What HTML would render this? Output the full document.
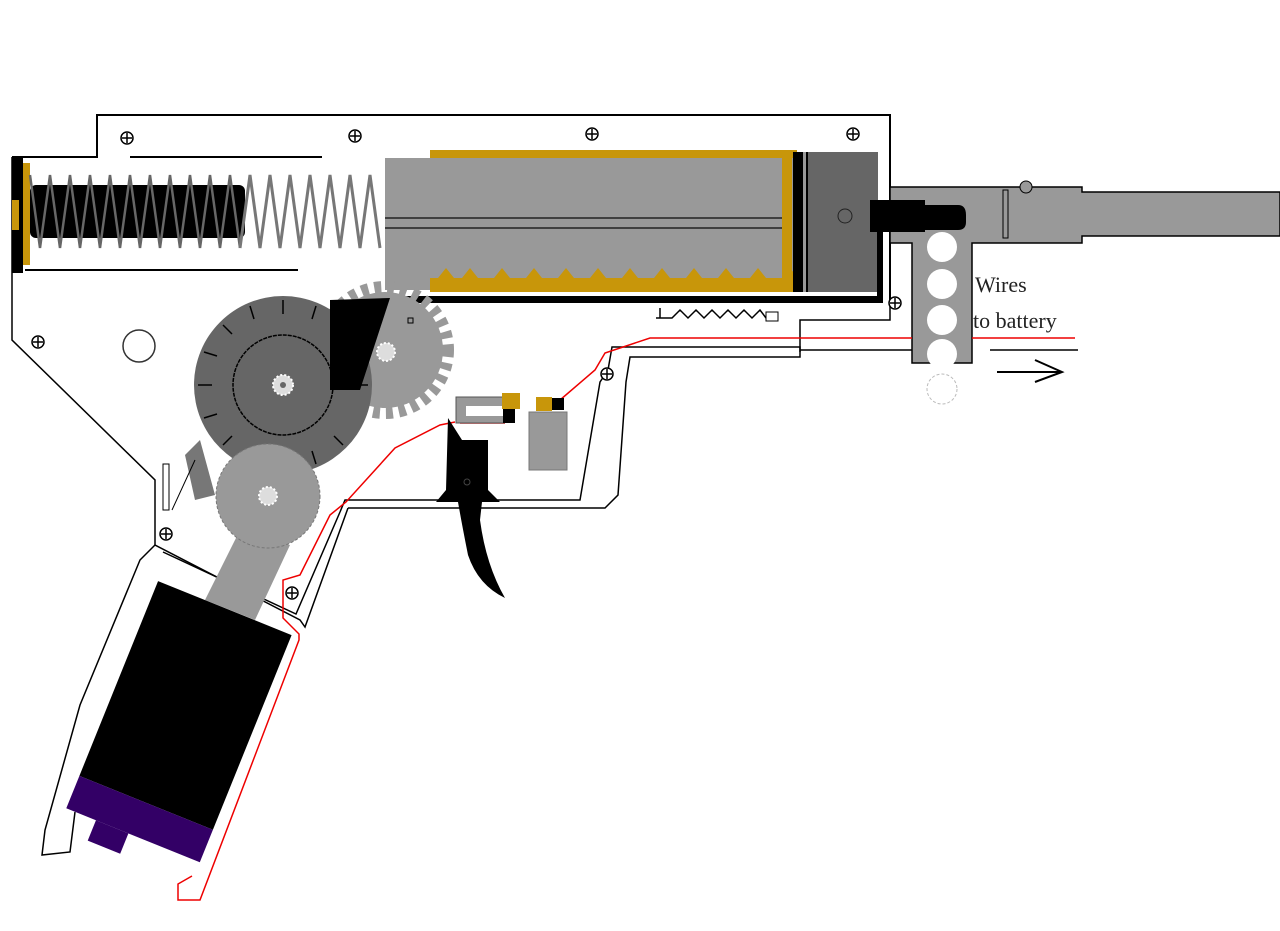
<!DOCTYPE html>
<html><head><meta charset="utf-8"><style>
html,body{margin:0;padding:0;background:#fff;width:1280px;height:931px;overflow:hidden}
svg{display:block}
text{font-family:"Liberation Serif",serif}
</style></head><body>
<svg width="1280" height="931" viewBox="0 0 1280 931" xmlns="http://www.w3.org/2000/svg">
<defs>
<g id="screw"><circle r="6" fill="#fff" stroke="#000" stroke-width="1.5"/><path d="M-5 0H5M0 -5V5" stroke="#000" stroke-width="1.5"/></g>
</defs>
<!-- gearbox outline -->
<path d="M12 157 H97 V115 H890 V300" fill="none" stroke="#000" stroke-width="2"/>
<path d="M12 157 V340 L155 480 V545 L300 620 L305 627 L348 508" fill="none" stroke="#000" stroke-width="1.5"/>
<path d="M163 552 L296 614 L340 512" fill="none" stroke="#000" stroke-width="1.5"/>
<path d="M155 545 L140 560 L80 705 L45 830 L42 855 L70 852 L75 812" fill="none" stroke="#000" stroke-width="1.5"/>
<line x1="130" y1="157" x2="322" y2="157" stroke="#000" stroke-width="2"/>
<line x1="25" y1="270" x2="298" y2="270" stroke="#000" stroke-width="2"/>
<!-- spring guide -->
<rect x="12" y="157" width="11" height="116" fill="#000"/>
<rect x="23" y="163" width="7" height="102" fill="#c8960a"/>
<rect x="12" y="200" width="7" height="30" fill="#c8960a"/>
<rect x="30" y="185" width="215" height="53" rx="6" fill="#000"/>
<polyline fill="none" stroke="#666" stroke-width="2.5" points="30,175 40,248 50,175 60,248 70,175 80,248 90,175 100,248 110,175 120,248 130,175 140,248 150,175 160,248 170,175 180,248 190,175 200,248 210,175 220,248 230,175 240,248"/>
<polyline fill="none" stroke="#777" stroke-width="3" points="240,248 250,175 260,248 270,175 280,248 290,175 300,248 310,175 320,248 330,175 340,248 350,175 360,248 370,175 380,248"/>
<!-- cylinder -->
<rect x="430" y="150" width="367" height="8" fill="#c8960a"/>
<rect x="385" y="158" width="425" height="132" fill="#999"/>
<line x1="385" y1="218" x2="790" y2="218" stroke="#222" stroke-width="1.5"/>
<line x1="385" y1="228" x2="790" y2="228" stroke="#222" stroke-width="1.5"/>
<polygon fill="#c8960a" points="430,292 430,278 438,278 446,268 454,278 462,278 470,268 478,278 494,278 502,268 510,278 526,278 534,268 542,278 558,278 566,268 574,278 590,278 598,268 606,278 622,278 630,268 638,278 654,278 662,268 670,278 686,278 694,268 702,278 718,278 726,268 734,278 750,278 758,268 766,278 782,278 790,268 798,278 820,278 820,292"/>
<rect x="782" y="152" width="10" height="140" fill="#c8960a"/>
<rect x="793" y="152" width="10" height="140" fill="#000"/>
<rect x="803" y="152" width="6" height="140" fill="#999"/>
<rect x="808" y="152" width="70" height="140" fill="#666"/>
<line x1="807" y1="152" x2="807" y2="292" stroke="#000" stroke-width="2"/>
<circle cx="845" cy="216" r="7" fill="none" stroke="#222"/>
<rect x="385" y="296" width="498" height="7" fill="#000"/>
<rect x="877" y="230" width="6" height="70" fill="#000"/>
<!-- nozzle / barrel -->
<polygon fill="#999" stroke="#000" stroke-width="1.5" points="890,187 1082,187 1082,192 1280,192 1280,236 1082,236 1082,243 972,243 972,363 912,363 912,243 890,243"/>
<rect x="1003" y="190" width="5" height="48" fill="none" stroke="#000"/>
<circle cx="1026" cy="187" r="6" fill="#999" stroke="#000"/>
<path d="M870 200 H925 V205 H958 Q966 205 966 215 V222 Q966 230 958 230 H925 V232 H870 Z" fill="#000"/>
<g fill="#fff"><circle cx="942" cy="247" r="15"/><circle cx="942" cy="284" r="15"/><circle cx="942" cy="320" r="15"/><circle cx="942" cy="354" r="15"/></g>
<circle cx="942" cy="389" r="15" fill="none" stroke="#bbb" stroke-dasharray="3 2"/>
<text x="975" y="292" font-size="22" fill="#222">Wires</text>
<text x="973" y="328" font-size="22" fill="#222">to battery</text>
<path d="M997 372 H1062 M1035 360 L1062 372 L1035 382" fill="none" stroke="#000" stroke-width="2"/>
<!-- small spring -->
<path d="M660 308 V318 M656 318 H672 L680 310 L688 318 L696 310 L704 318 L712 310 L720 318 L728 310 L736 318 L744 310 L752 318 L760 310 L766 318" fill="none" stroke="#000" stroke-width="1.5"/>
<rect x="766" y="312" width="12" height="9" fill="none" stroke="#000"/>
<circle cx="139" cy="346" r="16" fill="none" stroke="#333" stroke-width="1.5"/>
<rect x="163" y="464" width="6" height="46" fill="none" stroke="#000"/>
<!-- spur gear -->
<circle cx="385" cy="350" r="58" fill="#999"/>
<circle cx="385" cy="350" r="63" fill="none" stroke="#999" stroke-width="12" stroke-dasharray="7 6"/>
<!-- sector gear -->
<circle cx="283" cy="385" r="89" fill="#666"/>
<g stroke="#000" stroke-width="1.5">
<path d="M283 300V314 M283 470V456 M198 385H212 M368 385H354 M223 325L232 334 M343 445L334 436 M223 445L232 436 M343 325L334 334 M250 306L254 319 M316 464L312 451 M204 418L217 414 M362 352L349 356 M204 352L217 356 M250 464L254 451 M316 306L312 319"/>
</g>
<circle cx="283" cy="385" r="50" fill="#666" stroke="#000" stroke-width="1.5" stroke-dasharray="4 1"/>
<circle cx="283" cy="385" r="10" fill="#ddd" stroke="#fff" stroke-width="2" stroke-dasharray="2 2"/>
<circle cx="283" cy="385" r="3" fill="#666"/>
<path d="M330 300 L390 298 L360 390 L330 390 Z" fill="#000"/>
<circle cx="386" cy="352" r="9" fill="#ddd" stroke="#fff" stroke-width="2" stroke-dasharray="2 2"/>
<rect x="408" y="318" width="5" height="5" fill="none" stroke="#000"/>
<!-- anti-reversal latch -->
<polygon points="185,455 200,440 215,495 195,500" fill="#777"/>
<line x1="172" y1="510" x2="195" y2="460" stroke="#000"/>
<!-- bevel gear + motor pinion -->
<polygon points="240,530 290,545 255,620 205,600" fill="#999"/>
<circle cx="268" cy="496" r="52" fill="#999" stroke="#777" stroke-dasharray="3 2"/>
<circle cx="268" cy="496" r="9" fill="#ddd" stroke="#fff" stroke-width="2" stroke-dasharray="2 2"/>
<!-- motor -->
<g transform="translate(178 724) rotate(22)">
<rect x="-72" y="-125" width="144" height="210" fill="#000"/>
<rect x="-72" y="85" width="144" height="35" fill="#330066"/>
<rect x="-40" y="120" width="35" height="22" fill="#330066"/>
</g>
<!-- wires -->
<path d="M890 300 V320 H800 V357 H630 L626 382 L618 495 L605 508 H348" fill="none" stroke="#000" stroke-width="1.5"/>
<path d="M1078 350 H990 M912 350 H800" fill="none" stroke="#000" stroke-width="1.5"/>
<path d="M800 352 V347 H612 L608 370 L600 382 L580 500 H345 L340 512" fill="none" stroke="#000" stroke-width="1.5"/>
<path d="M1075 338 H972 M912 338 H650 L605 353 L595 370 L560 400" fill="none" stroke="#e00" stroke-width="1.5"/>
<path d="M192 876 L178 884 V900 H200 L299 640 V634 L283 618 V580 L300 575 L330 515 L346 502 L395 448 L440 425 L455 422" fill="none" stroke="#e00" stroke-width="1.5"/>
<path d="M460 423 H505" stroke="#e00" stroke-width="1.5"/>
<!-- screws -->
<use href="#screw" x="127" y="138"/><use href="#screw" x="355" y="136"/><use href="#screw" x="592" y="134"/><use href="#screw" x="853" y="134"/>
<use href="#screw" x="38" y="342"/><use href="#screw" x="895" y="303"/><use href="#screw" x="607" y="374"/><use href="#screw" x="166" y="534"/><use href="#screw" x="292" y="593"/>
<!-- switch -->
<rect x="456" y="397" width="48" height="26" fill="#999" stroke="#555"/>
<rect x="466" y="406" width="38" height="10" fill="#fff"/>
<rect x="502" y="393" width="18" height="16" fill="#c8960a"/>
<rect x="503" y="409" width="12" height="14" fill="#000"/>
<rect x="536" y="397" width="16" height="14" fill="#c8960a"/>
<rect x="552" y="398" width="12" height="12" fill="#000"/>
<rect x="529" y="412" width="38" height="58" fill="#999" stroke="#777"/>
<!-- trigger -->
<path d="M448 418 L462 440 H488 V490 L500 502 H482 L480 520 Q486 565 505 598 Q478 585 468 555 Q462 525 458 502 H436 L446 490 Z" fill="#000"/>
<circle cx="467" cy="482" r="3" fill="none" stroke="#444"/>
</svg>
</body></html>
